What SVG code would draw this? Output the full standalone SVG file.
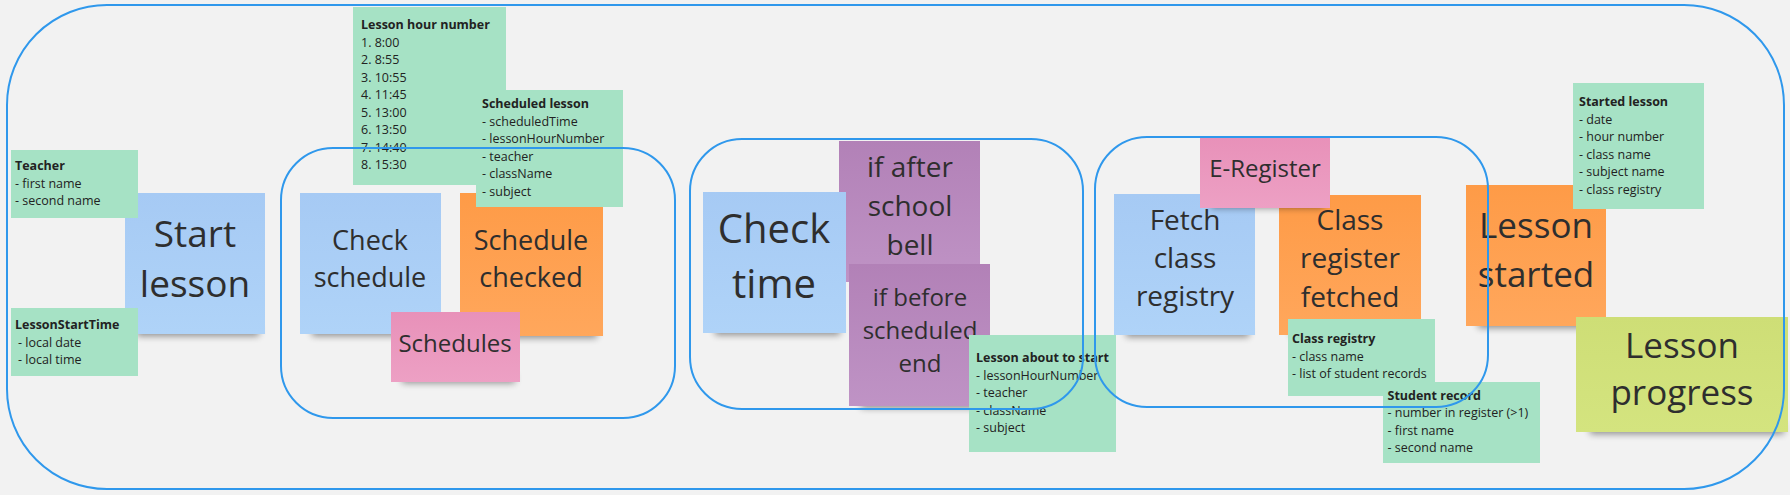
<svg xmlns="http://www.w3.org/2000/svg" width="1790" height="495" viewBox="0 0 1790 495">
<defs>
<style>
.bg{fill:#f2f2f2}
.frame{fill:none;stroke:#2f98ec;stroke-width:2}
.sh{fill:#000;opacity:0.42;filter:url(#blur)}
.big{font-family:"Open Sans","Liberation Sans",sans-serif;fill:#2e2e2e;text-anchor:middle}
.card rect{fill:#a6e2c5}
.card text{font-family:"Open Sans","Liberation Sans",sans-serif;font-size:12.5px;fill:#222}
.card .t{font-weight:700}
</style>
<filter id="blur" x="-20%" y="-100%" width="140%" height="300%"><feGaussianBlur stdDeviation="3.5"/></filter>
<linearGradient id="gBlue" x1="0" y1="0" x2="0" y2="1"><stop offset="0" stop-color="#a6caf4"/><stop offset="1" stop-color="#afd3f8"/></linearGradient>
<linearGradient id="gOrange" x1="0" y1="0" x2="0" y2="1"><stop offset="0" stop-color="#fe9b47"/><stop offset="1" stop-color="#ffa75c"/></linearGradient>
<linearGradient id="gPink" x1="0" y1="0" x2="0" y2="1"><stop offset="0" stop-color="#e891b9"/><stop offset="1" stop-color="#eda0c4"/></linearGradient>
<linearGradient id="gPurple" x1="0" y1="0" x2="0" y2="1"><stop offset="0" stop-color="#b281b7"/><stop offset="1" stop-color="#bf93c5"/></linearGradient>
<linearGradient id="gLime" x1="0" y1="0" x2="0" y2="1"><stop offset="0" stop-color="#cede76"/><stop offset="1" stop-color="#d4e47f"/></linearGradient>
</defs>
<rect class="bg" x="0" y="0" width="1790" height="495"/>

<g id="start-lesson">
<rect class="sh" x="137" y="326" width="122" height="10"/>
<rect x="125" y="193" width="140" height="141" fill="url(#gBlue)"/>
<text class="big" font-size="37" x="195" y="247">Start</text>
<text class="big" font-size="37" x="195" y="297">lesson</text>
</g>

<g id="teacher" class="card">
<rect x="11" y="150" width="127" height="68"/>
<text class="t" x="15" y="170">Teacher</text>
<text x="15" y="187.5">- first name</text>
<text x="15" y="205">- second name</text>
</g>

<g id="lesson-start-time" class="card">
<rect x="11" y="308" width="127" height="68"/>
<text class="t" x="15" y="329">LessonStartTime</text>
<text x="18" y="346.5">- local date</text>
<text x="18" y="364">- local time</text>
</g>

<g id="check-schedule">
<rect class="sh" x="312" y="326" width="123" height="10"/>
<rect x="300" y="193" width="141" height="141" fill="url(#gBlue)"/>
<text class="big" font-size="27" x="370" y="250">Check</text>
<text class="big" font-size="27" x="370" y="287">schedule</text>
</g>

<g id="schedule-checked">
<rect class="sh" x="472" y="328" width="125" height="10"/>
<rect x="460" y="193" width="143" height="143" fill="url(#gOrange)"/>
<text class="big" font-size="27" x="531" y="250">Schedule</text>
<text class="big" font-size="27" x="531" y="287">checked</text>
</g>

<g id="schedules">
<rect class="sh" x="402" y="374" width="113" height="9"/>
<rect x="391" y="312" width="129" height="70" fill="url(#gPink)"/>
<text class="big" font-size="24" x="455" y="352">Schedules</text>
</g>

<g id="lesson-hour-number" class="card">
<rect x="353" y="7" width="153" height="178"/>
<text class="t" x="361" y="29">Lesson hour number</text>
<text x="361" y="46.5">1. 8:00</text>
<text x="361" y="64">2. 8:55</text>
<text x="361" y="81.5">3. 10:55</text>
<text x="361" y="99">4. 11:45</text>
<text x="361" y="116.5">5. 13:00</text>
<text x="361" y="134">6. 13:50</text>
<text x="361" y="151.5">7. 14:40</text>
<text x="361" y="169">8. 15:30</text>
</g>

<g id="scheduled-lesson" class="card">
<rect x="476" y="90" width="147" height="117"/>
<text class="t" x="482" y="108">Scheduled lesson</text>
<text x="482" y="125.5">- scheduledTime</text>
<text x="482" y="143">- lessonHourNumber</text>
<text x="482" y="160.5">- teacher</text>
<text x="482" y="178">- className</text>
<text x="482" y="195.5">- subject</text>
</g>

<g id="if-after-school-bell">
<rect x="839" y="141" width="141" height="141" fill="url(#gPurple)"/>
<text class="big" font-size="28" x="910" y="177">if after</text>
<text class="big" font-size="28" x="910" y="216">school</text>
<text class="big" font-size="28" x="910" y="255">bell</text>
</g>

<g id="check-time">
<rect class="sh" x="715" y="325" width="125" height="10"/>
<rect x="703" y="192" width="143" height="141" fill="url(#gBlue)"/>
<text class="big" font-size="40" x="774" y="243">Check</text>
<text class="big" font-size="40" x="774" y="298">time</text>
</g>

<g id="if-before-scheduled-end">
<rect class="sh" x="861" y="398" width="123" height="10"/>
<rect x="849" y="264" width="141" height="142" fill="url(#gPurple)"/>
<text class="big" font-size="24" x="920" y="306">if before</text>
<text class="big" font-size="24" x="920" y="339">scheduled</text>
<text class="big" font-size="24" x="920" y="372">end</text>
</g>

<g id="lesson-about-to-start" class="card">
<rect x="969" y="335" width="147" height="117"/>
<text class="t" x="976" y="362">Lesson about to start</text>
<text x="976" y="379.5">- lessonHourNumber</text>
<text x="976" y="397">- teacher</text>
<text x="976" y="414.5">- className</text>
<text x="976" y="432">- subject</text>
</g>

<g id="fetch-class-registry">
<rect class="sh" x="1126" y="327" width="123" height="10"/>
<rect x="1114" y="194" width="141" height="141" fill="url(#gBlue)"/>
<text class="big" font-size="28" x="1185" y="230">Fetch</text>
<text class="big" font-size="28" x="1185" y="268">class</text>
<text class="big" font-size="28" x="1185" y="306">registry</text>
</g>

<g id="class-register-fetched">
<rect class="sh" x="1291" y="327" width="124" height="10"/>
<rect x="1279" y="195" width="142" height="140" fill="url(#gOrange)"/>
<text class="big" font-size="28" x="1350" y="230">Class</text>
<text class="big" font-size="28" x="1350" y="268">register</text>
<text class="big" font-size="28" x="1350" y="307">fetched</text>
</g>

<g id="e-register">
<rect class="sh" x="1211" y="199" width="113" height="9"/>
<rect x="1200" y="138" width="130" height="70" fill="url(#gPink)"/>
<text class="big" font-size="24" x="1265" y="177">E-Register</text>
</g>

<g id="class-registry" class="card">
<rect x="1288" y="319" width="147" height="77"/>
<text class="t" x="1292" y="343">Class registry</text>
<text x="1292" y="360.5">- class name</text>
<text x="1292" y="378">- list of student records</text>
</g>

<g id="student-record" class="card">
<rect x="1383" y="382" width="157" height="81"/>
<text class="t" x="1387.5" y="399.5">Student record</text>
<text x="1387.5" y="417">- number in register (&gt;1)</text>
<text x="1387.5" y="434.5">- first name</text>
<text x="1387.5" y="452">- second name</text>
</g>

<g id="lesson-started">
<rect class="sh" x="1478" y="318" width="122" height="10"/>
<rect x="1466" y="185" width="140" height="141" fill="url(#gOrange)"/>
<text class="big" font-size="35" x="1536" y="238">Lesson</text>
<text class="big" font-size="35" x="1536" y="287">started</text>
</g>

<g id="started-lesson" class="card">
<rect x="1573" y="83" width="131" height="126"/>
<text class="t" x="1579" y="106">Started lesson</text>
<text x="1579" y="123.5">- date</text>
<text x="1579" y="141">- hour number</text>
<text x="1579" y="158.5">- class name</text>
<text x="1579" y="176">- subject name</text>
<text x="1579" y="193.5">- class registry</text>
</g>

<g id="lesson-progress">
<rect class="sh" x="1590" y="424" width="194" height="10"/>
<rect x="1576" y="317" width="212" height="115" fill="url(#gLime)"/>
<text class="big" font-size="35" x="1682" y="358">Lesson</text>
<text class="big" font-size="35" x="1682" y="405">progress</text>
</g>

<g id="frames">
<rect id="frame-outer" class="frame" x="7" y="5" width="1777" height="484" rx="100" ry="100"/>
<rect id="frame-check-schedule" class="frame" x="281" y="148" width="394" height="270" rx="52" ry="52"/>
<rect id="frame-check-time" class="frame" x="690" y="139" width="393" height="270" rx="52" ry="52"/>
<rect id="frame-fetch-registry" class="frame" x="1095" y="137" width="393" height="270" rx="52" ry="52"/>
</g>

<g id="connectors"/>
</svg>
